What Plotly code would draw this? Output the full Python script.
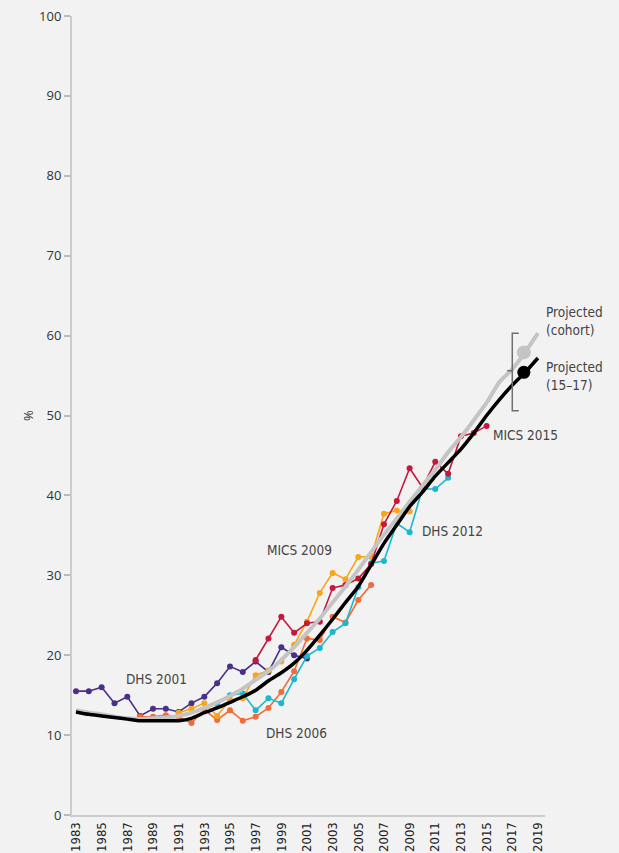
import plotly.graph_objects as go

# ---------------- data ----------------
years_dhs2001 = list(range(1983, 2002))
dhs2001 = [15.5, 15.5, 16.0, 14.0, 14.8, 12.4, 13.3, 13.3, 12.9, 14.0, 14.8, 16.5, 18.6,
           17.9, 19.2, 17.9, 21.0, 20.0, 19.6]

years_dhs2006 = list(range(1988, 2007))
dhs2006 = [12.3, 12.3, 12.5, 12.3, 11.5, 13.2, 11.9, 13.1, 11.8, 12.3, 13.4, 15.4, 18.0,
           22.1, 21.9, 24.8, 24.1, 26.9, 28.8]

years_mics2009 = list(range(1991, 2010))
mics2009 = [12.8, 13.3, 14.0, 12.4, 14.4, 14.6, 17.5, 18.1, 19.2, 21.3, 24.2, 27.8, 30.3,
            29.5, 32.3, 32.3, 37.7, 38.1, 38.0]

years_dhs2012 = list(range(1994, 2013))
dhs2012 = [13.9, 15.0, 15.2, 13.1, 14.6, 14.0, 17.0, 19.9, 20.9, 22.9, 24.0, 28.5, 31.5,
           31.8, 36.5, 35.4, 40.8, 40.8, 42.2]

years_mics2015 = list(range(1997, 2016))
mics2015 = [19.4, 22.1, 24.8, 22.8, 24.0, 24.2, 28.4, 28.8, 29.6, 31.4, 36.4, 39.3, 43.4,
            41.0, 44.2, 42.7, 47.4, 47.8, 48.7]

years_proj = list(range(1983, 2020))
proj_1517 = [12.9, 12.6, 12.4, 12.2, 12.0, 11.8, 11.8, 11.8, 11.8, 12.1, 12.8, 13.4, 14.1,
             14.8, 15.6, 16.8, 17.8, 19.0, 20.6, 22.5, 24.5, 26.6, 28.6, 31.3, 34.0, 36.3,
             38.6, 40.4, 42.4, 44.1, 45.8, 47.8, 50.0, 52.0, 53.8, 55.4, 57.2]
proj_cohort = [13.1, 12.8, 12.6, 12.3, 12.1, 12.0, 12.1, 12.2, 12.4, 12.8, 13.4, 14.1, 14.9,
               15.8, 16.9, 18.0, 19.4, 21.0, 22.8, 24.6, 26.6, 28.6, 30.7, 32.9, 35.1, 37.1,
               39.2, 41.2, 43.2, 45.4, 47.3, 49.4, 51.6, 54.2, 55.8, 57.9, 60.3]

marker_year = [2017.9]
marker_1517 = [55.4]
marker_cohort = [57.9]

x_ticks = list(range(1983, 2020, 2))
y_ticks = list(range(0, 101, 10))

survey_series = [
    ("DHS 2001", years_dhs2001, dhs2001, "#4a3087"),
    ("DHS 2006", years_dhs2006, dhs2006, "#f26c3b"),
    ("MICS 2009", years_mics2009, mics2009, "#f9a51b"),
    ("DHS 2012", years_dhs2012, dhs2012, "#1ab7cf"),
    ("MICS 2015", years_mics2015, mics2015, "#c4183c"),
]

# label positions (x, y) in data space
labels = [
    ("DHS 2001", 1986.74, 17.0),
    ("DHS 2006", 1997.65, 10.3),
    ("MICS 2009", 1997.73, 33.2),
    ("DHS 2012", 2009.8, 35.5),
    ("MICS 2015", 2015.35, 47.6),
    ("Projected<br>(cohort)", 2019.48, 61.8),
    ("Projected<br>(15–17)", 2019.48, 54.9),
]

COND = "Liberation Sans Narrow, DejaVu Sans Condensed, Arial Narrow, sans-serif"
BG = "#f2f2f2"

fig = go.Figure()

for name, xs, ys, col in survey_series:
    fig.add_trace(go.Scatter(x=xs, y=ys, mode="lines+markers", name=name,
                             line=dict(color=col, width=1.6),
                             marker=dict(color=col, size=6),
                             showlegend=False, cliponaxis=False))

fig.add_trace(go.Scatter(x=years_proj, y=proj_cohort, mode="lines",
                         line=dict(color="#c4c4c4", width=4, shape="spline", smoothing=0.5),
                         showlegend=False))
fig.add_trace(go.Scatter(x=years_proj, y=proj_1517, mode="lines",
                         line=dict(color="#000000", width=3.5, shape="spline", smoothing=0.5),
                         showlegend=False))
fig.add_trace(go.Scatter(x=marker_year, y=marker_cohort, mode="markers",
                         marker=dict(color="#c4c4c4", size=14), showlegend=False))
fig.add_trace(go.Scatter(x=marker_year, y=marker_1517, mode="markers",
                         marker=dict(color="#000000", size=13), showlegend=False))

# bracket around projections
bx, bx_r, bx_l = 2017.0, 2017.5, 2016.6
by0, by1, bym = 50.6, 60.3, 55.6
fig.add_shape(type="path",
              path=f"M {bx_r},{by1} L {bx},{by1} L {bx},{by0} L {bx_r},{by0} M {bx_l},{bym} L {bx},{bym}",
              xref="x", yref="y", line=dict(color="#6e6e6e", width=1.5))

for txt, lx, ly in labels:
    fig.add_annotation(x=lx, y=ly, text=txt, showarrow=False, xanchor="left",
                       yanchor="middle", align="left",
                       font=dict(family=COND, size=13.5, color="#444444"))

fig.update_layout(
    width=619, height=853,
    margin=dict(l=72, r=74, t=16, b=38),
    paper_bgcolor=BG, plot_bgcolor=BG,
    showlegend=False,
    xaxis=dict(range=[1982.69, 2019.55], tickvals=x_ticks, automargin=False,
               ticktext=[str(v) for v in x_ticks], tickangle=-90,
               showgrid=False, zeroline=False, showline=True,
               linecolor="#cccccc", linewidth=2, ticks="",
               tickfont=dict(family=COND, size=13, color="#222222")),
    yaxis=dict(range=[0, 100], tickvals=y_ticks, showgrid=False, zeroline=False,
               automargin=False,
               showline=True, linecolor="#cccccc", linewidth=2,
               ticks="outside", ticklen=6, tickcolor="#bbbbbb", tickwidth=1.5,
               tickfont=dict(family="Open Sans, sans-serif", size=13, color="#333333"),
               title=dict(text="%", standoff=3,
                          font=dict(family="Open Sans, sans-serif", size=13, color="#333333"))),
)

fig.write_html("out.html", config={"displayModeBar": False},
               post_script="document.body.style.margin='0px';document.body.style.overflow='hidden';")
